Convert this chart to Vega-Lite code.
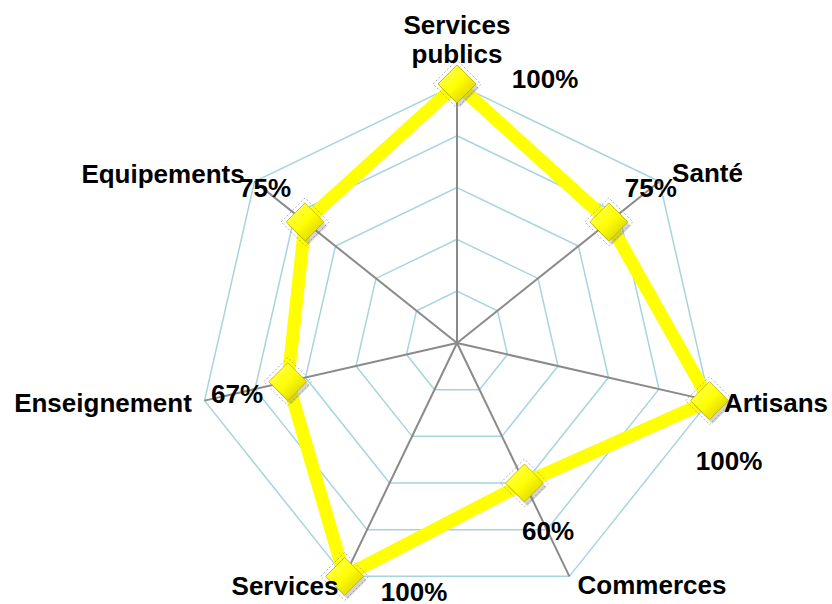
{
  "$schema": "https://vega.github.io/schema/vega-lite/v6.json",
  "width": 832,
  "height": 604,
  "padding": 0,
  "autosize": {"type": "none"},
  "background": "white",
  "config": {
    "view": {"stroke": null},
    "text": {"font": "Liberation Sans", "fontWeight": "bold", "fontSize": 26, "fill": "#000000", "align": "center", "baseline": "alphabetic"}
  },
  "datasets": {
    "axes": [
      {"axis": "Services publics", "k": 0, "value": 1, "label": "100%"},
      {"axis": "Santé", "k": 1, "value": 0.75, "label": "75%"},
      {"axis": "Artisans", "k": 2, "value": 1, "label": "100%"},
      {"axis": "Commerces", "k": 3, "value": 0.6, "label": "60%"},
      {"axis": "Services", "k": 4, "value": 1, "label": "100%"},
      {"axis": "Enseignement", "k": 5, "value": 0.67, "label": "67%"},
      {"axis": "Equipements", "k": 6, "value": 0.75, "label": "75%"}
    ],
    "rings": [
      {"level": 0.2, "k": [0, 1, 2, 3, 4, 5, 6]},
      {"level": 0.4, "k": [0, 1, 2, 3, 4, 5, 6]},
      {"level": 0.6, "k": [0, 1, 2, 3, 4, 5, 6]},
      {"level": 0.8, "k": [0, 1, 2, 3, 4, 5, 6]},
      {"level": 1.0, "k": [0, 1, 2, 3, 4, 5, 6]}
    ]
  },
  "data": {"name": "axes"},
  "transform": [
    {"calculate": "datum.k * 2 * PI / 7", "as": "ang"},
    {"calculate": "datum.value * sin(datum.ang)", "as": "x"},
    {"calculate": "datum.value * cos(datum.ang)", "as": "y"},
    {"calculate": "sin(datum.ang)", "as": "ox"},
    {"calculate": "cos(datum.ang)", "as": "oy"},
    {"calculate": "split(datum.axis, ' ')", "as": "lines"}
  ],
  "encoding": {
    "x": {"field": "x", "type": "quantitative", "scale": {"domain": [-1.7645, 1.4479], "nice": false, "zero": false}, "axis": null},
    "y": {"field": "y", "type": "quantitative", "scale": {"domain": [-1.0077, 1.3243], "nice": false, "zero": false}, "axis": null}
  },
  "layer": [
    {
      "data": {"name": "rings"},
      "transform": [
        {"flatten": ["k"]},
        {"calculate": "datum.k * 2 * PI / 7", "as": "ang"},
        {"calculate": "datum.level * sin(datum.ang)", "as": "x"},
        {"calculate": "datum.level * cos(datum.ang)", "as": "y"}
      ],
      "mark": {"type": "line", "interpolate": "linear-closed", "stroke": "#a6d5dc", "strokeWidth": 1.5},
      "encoding": {"detail": {"field": "level"}, "order": {"field": "k"}}
    },
    {
      "mark": {"type": "rule", "stroke": "#8a8a8a", "strokeWidth": 2},
      "encoding": {
        "x": {"datum": 0, "type": "quantitative"},
        "y": {"datum": 0, "type": "quantitative"},
        "x2": {"field": "ox"},
        "y2": {"field": "oy"}
      }
    },
    {
      "mark": {"type": "line", "interpolate": "linear-closed", "stroke": "#ffff00", "strokeWidth": 13, "strokeJoin": "miter"},
      "encoding": {"order": {"field": "k"}}
    },
    {
      "mark": {"type": "point", "shape": "diamond", "size": 2300, "filled": false, "stroke": "#a0a0a0", "strokeWidth": 1, "strokeDash": [2, 2], "opacity": 0.8}
    },
    {
      "mark": {"type": "point", "shape": "diamond", "size": 1444, "filled": true, "fill": "#707070", "opacity": 0.3, "xOffset": 3, "yOffset": 4}
    },
    {
      "mark": {
        "type": "point", "shape": "diamond", "size": 1444, "filled": true, "opacity": 1,
        "fill": {"gradient": "linear", "x1": 0, "y1": 0, "x2": 1, "y2": 1, "stops": [{"offset": 0, "color": "#ffff70"}, {"offset": 0.5, "color": "#ffff00"}, {"offset": 1, "color": "#cfc200"}]},
        "stroke": "#bfb000", "strokeWidth": 0.8
      }
    },
    {"transform": [{"filter": "datum.k == 0"}], "mark": {"type": "text", "dy": -50, "lineHeight": 29}, "encoding": {"x": {"field": "ox", "type": "quantitative"}, "y": {"field": "oy", "type": "quantitative"}, "text": {"field": "lines"}}},
    {"transform": [{"filter": "datum.k == 1"}], "mark": {"type": "text", "dx": 48, "dy": 0}, "encoding": {"x": {"field": "ox", "type": "quantitative"}, "y": {"field": "oy", "type": "quantitative"}, "text": {"field": "axis"}}},
    {"transform": [{"filter": "datum.k == 2"}], "mark": {"type": "text", "dx": 66.5, "dy": 11.4}, "encoding": {"x": {"field": "ox", "type": "quantitative"}, "y": {"field": "oy", "type": "quantitative"}, "text": {"field": "axis"}}},
    {"transform": [{"filter": "datum.k == 3"}], "mark": {"type": "text", "dx": 82.6, "dy": 17.6}, "encoding": {"x": {"field": "ox", "type": "quantitative"}, "y": {"field": "oy", "type": "quantitative"}, "text": {"field": "axis"}}},
    {"transform": [{"filter": "datum.k == 4"}], "mark": {"type": "text", "dx": -59.6, "dy": 18.6}, "encoding": {"x": {"field": "ox", "type": "quantitative"}, "y": {"field": "oy", "type": "quantitative"}, "text": {"field": "axis"}}},
    {"transform": [{"filter": "datum.k == 5"}], "mark": {"type": "text", "dx": -101.5, "dy": 11.4}, "encoding": {"x": {"field": "ox", "type": "quantitative"}, "y": {"field": "oy", "type": "quantitative"}, "text": {"field": "axis"}}},
    {"transform": [{"filter": "datum.k == 6"}], "mark": {"type": "text", "dx": -91.5, "dy": 1.5}, "encoding": {"x": {"field": "ox", "type": "quantitative"}, "y": {"field": "oy", "type": "quantitative"}, "text": {"field": "axis"}}},
    {"transform": [{"filter": "datum.k == 0"}], "mark": {"type": "text", "dx": 88, "dy": 4}, "encoding": {"text": {"field": "label"}}},
    {"transform": [{"filter": "datum.k == 1"}], "mark": {"type": "text", "dx": 42, "dy": -25}, "encoding": {"text": {"field": "label"}}},
    {"transform": [{"filter": "datum.k == 2"}], "mark": {"type": "text", "dx": 19.5, "dy": 69.4}, "encoding": {"text": {"field": "label"}}},
    {"transform": [{"filter": "datum.k == 3"}], "mark": {"type": "text", "dx": 23.6, "dy": 57}, "encoding": {"text": {"field": "label"}}},
    {"transform": [{"filter": "datum.k == 4"}], "mark": {"type": "text", "dx": 69.4, "dy": 24.6}, "encoding": {"text": {"field": "label"}}},
    {"transform": [{"filter": "datum.k == 5"}], "mark": {"type": "text", "dx": -50.8, "dy": 21.4}, "encoding": {"text": {"field": "label"}}},
    {"transform": [{"filter": "datum.k == 6"}], "mark": {"type": "text", "dx": -40, "dy": -25}, "encoding": {"text": {"field": "label"}}}
  ]
}
